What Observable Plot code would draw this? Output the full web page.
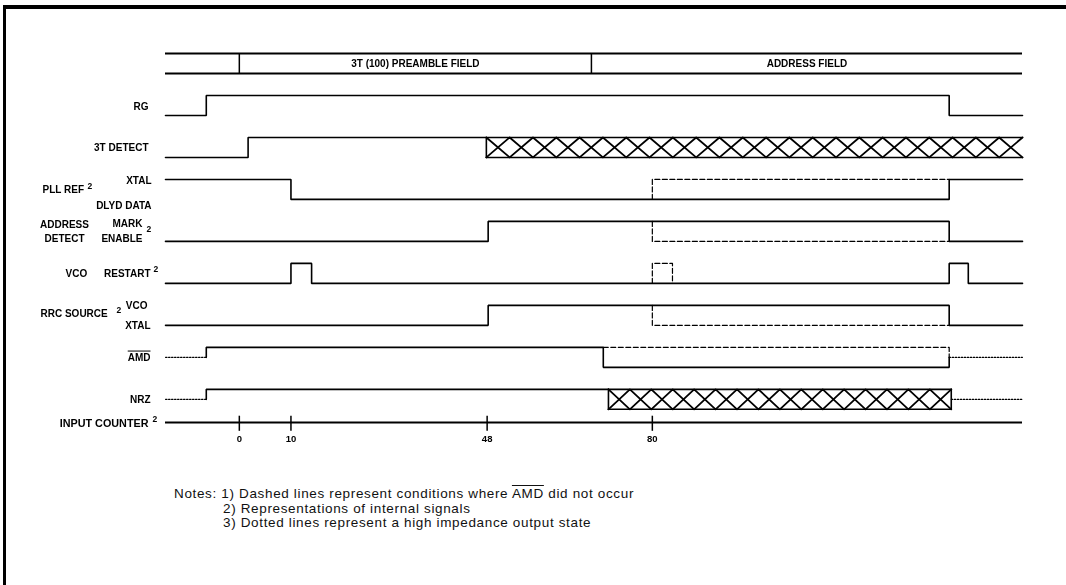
<!DOCTYPE html>
<html><head><meta charset="utf-8">
<script src="https://cdn.jsdelivr.net/npm/d3@7"></script>
<script src="https://cdn.jsdelivr.net/npm/@observablehq/plot@0.6"></script>
<style>
html,body{margin:0;padding:0;background:#fff;overflow:hidden;}
#topbar{position:fixed;left:3px;top:5px;width:1200px;height:4px;background:#000;}
#leftbar{position:fixed;left:3px;top:5px;width:3px;height:700px;background:#000;}
#chart{position:absolute;left:0;top:0;}
#notes{position:absolute;left:174px;top:487px;font-family:"Liberation Sans",Arial,sans-serif;font-size:13.5px;letter-spacing:0.65px;line-height:14.5px;color:#111;white-space:nowrap;}
.ov{text-decoration:overline;}
</style></head>
<body>
<div id="topbar"></div>
<div id="leftbar"></div>
<div id="chart"></div>
<div id="notes">
<div>Notes: 1) Dashed lines represent conditions where <span class="ov">AMD</span> did not occur</div>
<div style="padding-left:49px">2) Representations of internal signals</div>
<div style="padding-left:49px">3) Dotted lines represent a high impedance output state</div>
</div>
<script>
// ---- data (time in input-counter units, level 1 = high, 0 = low, 0.5 = high impedance) ----
const T_START = -14.3, T_END = 151.7;
const signals = ["RG", "3T DETECT", "PLL REF", "ADDRESS DETECT", "VCO RESTART", "RRC SOURCE", "AMD", "NRZ"];
const counterTicks = [0, 10, 48, 80];
const fieldNames = ["3T (100) PREAMBLE FIELD", "ADDRESS FIELD"];
const fieldBounds = [0, 68.2, T_END];

const rgSolid      = [[-14.3,0],[-6.4,0],[-6.4,1],[137.5,1],[137.5,0],[151.7,0]];
const detectSolid  = [[-14.3,0],[1.7,0],[1.7,1],[47.85,1]];
const detectBus    = {from:47.85, to:151.7, cells:23};
const pllSolid     = [[-14.3,1],[10,1],[10,0],[137.5,0],[137.5,1],[151.7,1]];
const pllDashed    = [[80,0],[80,1],[137.5,1]];
const admSolid     = [[-14.3,0],[48.2,0],[48.2,1],[137.5,1],[137.5,0],[151.7,0]];
const admDashed    = [[80,1],[80,0],[137.5,0]];
const vcoSolid     = [[-14.3,0],[10,0],[10,1],[14,1],[14,0],[137.5,0],[137.5,1],[141.2,1],[141.2,0],[151.7,0]];
const vcoDashed    = [[80,0],[80,1],[83.9,1],[83.9,0]];
const rrcSolid     = [[-14.3,0],[48.2,0],[48.2,1],[137.5,1],[137.5,0],[151.7,0]];
const rrcDashed    = [[80,1],[80,0],[137.5,0]];
const amdDotted1   = [[-14.3,0.5],[-6.4,0.5]];
const amdSolid     = [[-6.4,0.5],[-6.4,1],[70.5,1],[70.5,0],[137.5,0],[137.5,0.5]];
const amdDashed    = [[70.5,1],[137.5,1],[137.5,0.5]];
const amdDotted2   = [[137.5,0.5],[151.7,0.5]];
const nrzDotted1   = [[-14.3,0.5],[-6.4,0.5]];
const nrzSolid     = [[-6.4,0.5],[-6.4,1],[71.5,1]];
const nrzBus       = {from:71.5, to:137.9, cells:16};
const nrzDotted2   = [[137.9,0.5],[151.7,0.5]];

// ---- build tables ----
const LOW = 0.476; // row height (high->low) in row units
const yOf = (row, level) => row + (1 - level) * LOW;
let pid = 0;
function path(rowName, pts, style) {
  const row = signals.indexOf(rowName); const id = pid++;
  return pts.map(([t, level]) => ({id, style, t, y: yOf(row, level)}));
}
function bus(rowName, b, closeRight) {
  const out = [];
  out.push(...path(rowName, [[b.from,1],[b.to,1]], "solid"));
  out.push(...path(rowName, [[b.from,0],[b.to,0]], "solid"));
  out.push(...path(rowName, [[b.from,0],[b.from,1]], "solid"));
  if (closeRight) out.push(...path(rowName, [[b.to,0],[b.to,1]], "solid"));
  const w = (b.to - b.from) / b.cells;
  const zA = [], zB = [];
  for (let i = 0; i <= b.cells; i++) {
    zA.push([b.from + i * w, i % 2 ? 0 : 1]);
    zB.push([b.from + i * w, i % 2 ? 1 : 0]);
  }
  out.push(...path(rowName, zA, "hatch"), ...path(rowName, zB, "hatch"));
  return out;
}
const waves = [
  ...path("RG", rgSolid, "solid"),
  ...path("3T DETECT", detectSolid, "solid"),
  ...bus("3T DETECT", detectBus, false),
  ...path("PLL REF", pllSolid, "solid"),
  ...path("PLL REF", pllDashed, "dashed"),
  ...path("ADDRESS DETECT", admSolid, "solid"),
  ...path("ADDRESS DETECT", admDashed, "dashed"),
  ...path("VCO RESTART", vcoSolid, "solid"),
  ...path("VCO RESTART", vcoDashed, "dashed"),
  ...path("RRC SOURCE", rrcSolid, "solid"),
  ...path("RRC SOURCE", rrcDashed, "dashed"),
  ...path("AMD", amdDotted1, "dotted"),
  ...path("AMD", amdSolid, "solid"),
  ...path("AMD", amdDashed, "dashed"),
  ...path("AMD", amdDotted2, "dotted"),
  ...path("NRZ", nrzDotted1, "dotted"),
  ...path("NRZ", nrzSolid, "solid"),
  ...bus("NRZ", nrzBus, true),
  ...path("NRZ", nrzDotted2, "dotted")
];
const by = s => waves.filter(d => d.style === s);
const HDR = -1, CNT = 7.79;
const mid = r => r + LOW / 2;
const lab = (txt, y, dx, anchor, extra = {}) =>
  Plot.text([txt], {frameAnchor: "left", y: () => y, dx, textAnchor: anchor, text: d => d, fontWeight: "bold", ...extra});

const chart = Plot.plot({
  width: 1066, height: 460,
  marginLeft: 165, marginRight: 44, marginTop: 53, marginBottom: 38,
  x: {domain: [T_START, T_END], axis: null},
  y: {domain: [HDR, CNT], reverse: true, axis: null},
  style: {fontFamily: "'Liberation Sans', Arial, sans-serif", fontSize: "10px", background: "transparent", color: "#000"},
  marks: [
    // header
    Plot.ruleY([HDR, HDR + LOW], {x1: T_START, x2: T_END, stroke: "#000", strokeWidth: 2}),
    Plot.ruleX(fieldBounds.slice(0, 2), {y1: HDR, y2: HDR + LOW, stroke: "#000", strokeWidth: 1.5}),
    Plot.text(fieldNames, {x: (d, i) => (fieldBounds[i] + fieldBounds[i + 1]) / 2, y: () => mid(HDR), text: d => d, fontWeight: "bold", fontSize: 10}),
    // waveforms
    Plot.line(by("solid"), {x: "t", y: "y", z: "id", stroke: "#000", strokeWidth: 1.6, strokeLinejoin: "miter", curve: "linear"}),
    Plot.line(by("hatch"), {x: "t", y: "y", z: "id", stroke: "#000", strokeWidth: 1.8, curve: "linear"}),
    Plot.line(by("dashed"), {x: "t", y: "y", z: "id", stroke: "#000", strokeWidth: 1.2, strokeDasharray: "5,2.5", curve: "linear"}),
    Plot.line(by("dotted"), {x: "t", y: "y", z: "id", stroke: "#000", strokeWidth: 1.1, strokeDasharray: "1.6,1.4", curve: "linear"}),
    // input counter
    Plot.ruleY([CNT], {x1: T_START, x2: T_END, stroke: "#000", strokeWidth: 2}),
    Plot.ruleX(counterTicks, {y1: CNT - 0.15, y2: CNT + 0.21, stroke: "#000", strokeWidth: 1.5}),
    Plot.text(counterTicks, {x: d => d, y: () => CNT, dy: 16, text: d => String(d), fontWeight: "bold", fontSize: 9.5}),
    // labels
    lab("RG", mid(0) + 0.02, -17, "end"),
    lab("3T DETECT", mid(1), -17, "end"),
    lab("PLL REF", mid(2), -123, "start"),
    lab("2", mid(2) - 0.08, -78, "start", {fontSize: 8.5}),
    lab("XTAL", yOf(2, 1) + 0.03, -14, "end"),
    lab("DLYD DATA", yOf(2, 0) + 0.14, -14, "end"),
    lab("ADDRESS", yOf(3, 1) + 0.07, -101, "middle"),
    lab("DETECT", yOf(3, 0) - 0.07, -101, "middle"),
    lab("MARK", yOf(3, 1) + 0.05, -23, "end"),
    lab("ENABLE", yOf(3, 0) - 0.07, -23, "end"),
    lab("2", mid(3) - 0.05, -19, "start", {fontSize: 8.5}),
    lab("VCO", mid(4), -100, "start"),
    lab("RESTART", mid(4), -15, "end"),
    lab("2", mid(4) - 0.1, -12, "start", {fontSize: 8.5}),
    lab("RRC SOURCE", mid(5) - 0.04, -125, "start"),
    lab("2", mid(5) - 0.12, -49, "start", {fontSize: 8.5}),
    lab("VCO", yOf(5, 1) + 0.02, -18, "end"),
    lab("XTAL", yOf(5, 0), -15, "end"),
    lab("AMD", mid(6), -15, "end"),
    lab("NRZ", mid(7), -15, "end"),
    lab("INPUT COUNTER", CNT + 0.02, -17, "end", {fontSize: 10.8}),
    lab("2", CNT - 0.08, -13, "start", {fontSize: 8.5})
  ]
});
document.getElementById("chart").appendChild(chart);
d3.select(chart).selectAll("text").filter(function () { return this.textContent === "AMD"; })
  .style("text-decoration", "overline");
</script>
</body></html>
